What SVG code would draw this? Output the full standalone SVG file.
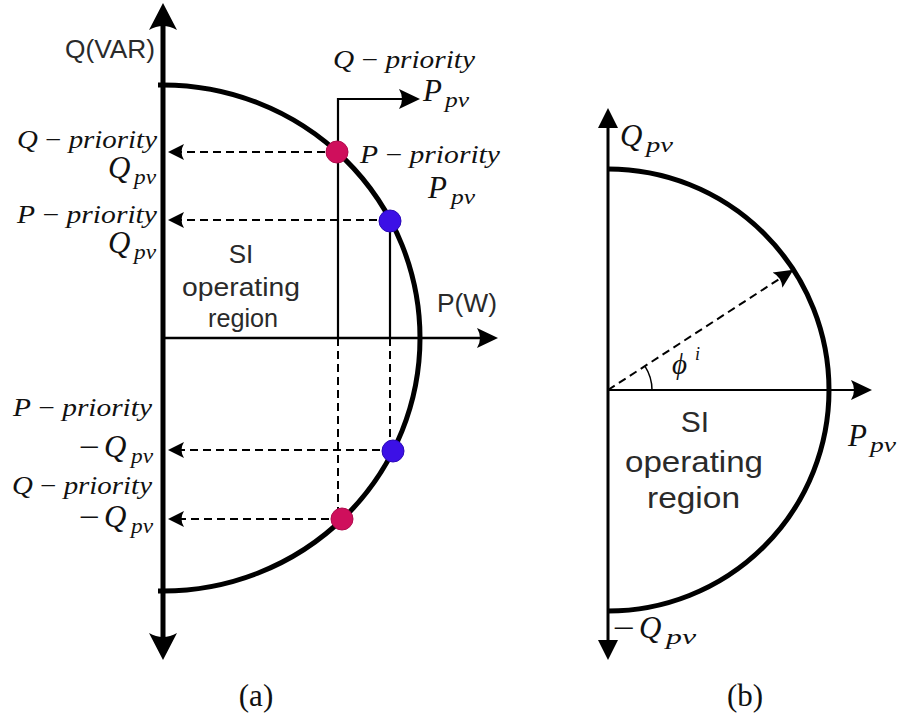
<svg xmlns="http://www.w3.org/2000/svg" width="899" height="716" viewBox="0 0 899 716">
<style>
.bg{fill:#fff}
.m{font-family:"Liberation Serif","DejaVu Serif",serif;fill:#111}
.i{font-style:italic}
.lbl{font-size:25px}
.big{font-size:31px;font-style:italic}
.sub{font-size:22px;font-style:italic}
.s{font-family:"Liberation Sans",Arial,sans-serif;fill:#2a2a2a}
.ax{fill:none;stroke:#000}
.dash{fill:none;stroke:#000;stroke-width:2;stroke-dasharray:8 5}
.thin{fill:none;stroke:#000;stroke-width:2.2}
.arc{fill:none;stroke:#000;stroke-width:5}
.red{fill:#cf0f5c;stroke:#b00a4c;stroke-width:1}
.blue{fill:#3c10e6;stroke:#2a08b8;stroke-width:1}
</style>
<defs>
<marker id="bigA" markerUnits="userSpaceOnUse" viewBox="-27 -14 28 28" markerWidth="28" markerHeight="28" refX="-6" refY="0" orient="auto-start-reverse"><path d="M0,0 L-27,-14 Q-19,0 -27,14 Z" fill="#000"/></marker>
<marker id="midA" markerUnits="userSpaceOnUse" viewBox="-21 -11 22 22" markerWidth="22" markerHeight="22" refX="-6" refY="0" orient="auto"><path d="M0,0 L-21,-10 Q-15,0 -21,10 Z" fill="#000"/></marker>
<marker id="smA" markerUnits="userSpaceOnUse" viewBox="-16 -9 17 18" markerWidth="17" markerHeight="18" refX="-6" refY="0" orient="auto"><path d="M0,0 L-16,-8 Q-11,0 -16,8 Z" fill="#000"/></marker>
<marker id="triA" markerUnits="userSpaceOnUse" viewBox="-21 -11 22 22" markerWidth="22" markerHeight="22" refX="-5" refY="0" orient="auto-start-reverse"><path d="M0,0 L-20,-10 L-20,10 Z" fill="#000"/></marker>
<marker id="rayA" markerUnits="userSpaceOnUse" viewBox="-19 -10 20 20" markerWidth="20" markerHeight="20" refX="-6" refY="0" orient="auto"><path d="M0,0 L-19,-9 Q-14,0 -19,9 Z" fill="#000"/></marker>
</defs>
<rect class="bg" x="0" y="0" width="899" height="716"/>

<g id="connectors">
  <!-- panel (a) -->
  <path id="a-qaxis" class="ax" stroke-width="5" d="M163,654 L163,9" marker-start="url(#bigA)" marker-end="url(#bigA)"/>
  <path id="a-paxis" class="ax" stroke-width="2.5" d="M163,338 L492,338" marker-end="url(#midA)"/>
  <path id="a-circle" class="arc" d="M158,85 L163,85 A257,253 0 0 1 163,591 L158,591"/>
  <path id="a-qprio-arrow" class="thin" d="M338,338 L338,99 L414,99" marker-end="url(#midA)"/>
  <path id="a-red-down" class="dash" d="M338,338 L338,512"/>
  <path id="a-blue-up" class="thin" d="M390,220 L390,338"/>
  <path id="a-blue-down" class="dash" d="M390,338 L390,446"/>
  <path id="a-d1" class="dash" d="M338,152 L174,152" marker-end="url(#smA)"/>
  <path id="a-d2" class="dash" d="M390,220 L174,220" marker-end="url(#smA)"/>
  <path id="a-d3" class="dash" d="M393,450 L174,450" marker-end="url(#smA)"/>
  <path id="a-d4" class="dash" d="M342,519 L174,519" marker-end="url(#smA)"/>
  <!-- panel (b) -->
  <path id="b-qaxis" class="ax" stroke-width="3" d="M608,655 L608,113" marker-start="url(#triA)" marker-end="url(#triA)"/>
  <path id="b-paxis" class="ax" stroke-width="2.2" d="M608,390 L866,390" marker-end="url(#midA)"/>
  <path id="b-circle" class="arc" d="M608,169 A221,221 0 0 1 608,611"/>
  <path id="b-ray" class="dash" d="M608,390 L788.4,273.1" marker-end="url(#rayA)"/>
  <path id="b-angle" class="ax" stroke-width="1.5" d="M644.9,366.1 A44,44 0 0 1 652,390"/>
</g>

<g id="node-a-q1"><circle class="red" cx="337" cy="152" r="11"/></g>
<g id="node-a-p1"><circle class="blue" cx="390" cy="221" r="11"/></g>
<g id="node-a-p2"><circle class="blue" cx="393" cy="451" r="11"/></g>
<g id="node-a-q2"><circle class="red" cx="342" cy="519" r="11"/></g>

<g id="labels-a">
  <text class="s" x="65" y="58" font-size="26" textLength="90" lengthAdjust="spacingAndGlyphs">Q(VAR)</text>
  <text class="s" x="437" y="312" font-size="25" textLength="60" lengthAdjust="spacingAndGlyphs">P(W)</text>
  <text class="s" x="241" y="263" font-size="26" text-anchor="middle">SI</text>
  <text class="s" x="182" y="296" font-size="26" textLength="118" lengthAdjust="spacingAndGlyphs">operating</text>
  <text class="s" x="208" y="327" font-size="26" textLength="70" lengthAdjust="spacingAndGlyphs">region</text>

  <text class="m lbl" x="17" y="148" textLength="140" lengthAdjust="spacingAndGlyphs"><tspan class="i">Q</tspan> − <tspan class="i">priority</tspan></text>
  <text class="m big" x="108" y="178">Q</text><text class="m sub" x="134" y="184" textLength="22" lengthAdjust="spacingAndGlyphs">pv</text>

  <text class="m lbl" x="17" y="223" textLength="140" lengthAdjust="spacingAndGlyphs"><tspan class="i">P</tspan> − <tspan class="i">priority</tspan></text>
  <text class="m big" x="108" y="253">Q</text><text class="m sub" x="134" y="259" textLength="22" lengthAdjust="spacingAndGlyphs">pv</text>

  <text class="m lbl" x="13" y="416" textLength="139" lengthAdjust="spacingAndGlyphs"><tspan class="i">P</tspan> − <tspan class="i">priority</tspan></text>
  <text class="m" x="79" y="457" font-size="30" textLength="21" lengthAdjust="spacingAndGlyphs">−</text><text class="m big" x="104" y="457">Q</text><text class="m sub" x="131" y="463" textLength="22" lengthAdjust="spacingAndGlyphs">pv</text>

  <text class="m lbl" x="12" y="494" textLength="140" lengthAdjust="spacingAndGlyphs"><tspan class="i">Q</tspan> − <tspan class="i">priority</tspan></text>
  <text class="m" x="79" y="527" font-size="30" textLength="21" lengthAdjust="spacingAndGlyphs">−</text><text class="m big" x="104" y="527">Q</text><text class="m sub" x="131" y="533" textLength="22" lengthAdjust="spacingAndGlyphs">pv</text>

  <text class="m lbl" x="333" y="68" textLength="142" lengthAdjust="spacingAndGlyphs"><tspan class="i">Q</tspan> − <tspan class="i">priority</tspan></text>
  <text class="m big" x="423" y="101">P</text><text class="m sub" x="445" y="107" textLength="24" lengthAdjust="spacingAndGlyphs">pv</text>

  <text class="m lbl" x="360" y="163" textLength="140" lengthAdjust="spacingAndGlyphs"><tspan class="i">P</tspan> − <tspan class="i">priority</tspan></text>
  <text class="m big" x="428" y="198">P</text><text class="m sub" x="451" y="204" textLength="24" lengthAdjust="spacingAndGlyphs">pv</text>

  <text class="m" x="256" y="706" font-size="31" text-anchor="middle">(a)</text>
</g>

<g id="labels-b">
  <text class="m big" x="620" y="146">Q</text><text class="m sub" x="646" y="152" textLength="27" lengthAdjust="spacingAndGlyphs">pv</text>
  <text class="m big" x="848" y="446">P</text><text class="m sub" x="870" y="452" textLength="26" lengthAdjust="spacingAndGlyphs">pv</text>
  <text class="m" x="613" y="638" font-size="30" textLength="22" lengthAdjust="spacingAndGlyphs">−</text><text class="m big" x="639" y="638">Q</text><text class="m sub" x="666" y="644" textLength="30" lengthAdjust="spacingAndGlyphs">pv</text>
  <text class="m i" x="672" y="374" font-size="29">ϕ</text><text class="m i" x="695" y="360" font-size="18">i</text>
  <text class="s" x="695" y="432" font-size="30" text-anchor="middle">SI</text>
  <text class="s" x="625" y="472" font-size="30" textLength="138" lengthAdjust="spacingAndGlyphs">operating</text>
  <text class="s" x="647" y="508" font-size="30" textLength="93" lengthAdjust="spacingAndGlyphs">region</text>
  <text class="m" x="745" y="706" font-size="31" text-anchor="middle">(b)</text>
</g>
</svg>
